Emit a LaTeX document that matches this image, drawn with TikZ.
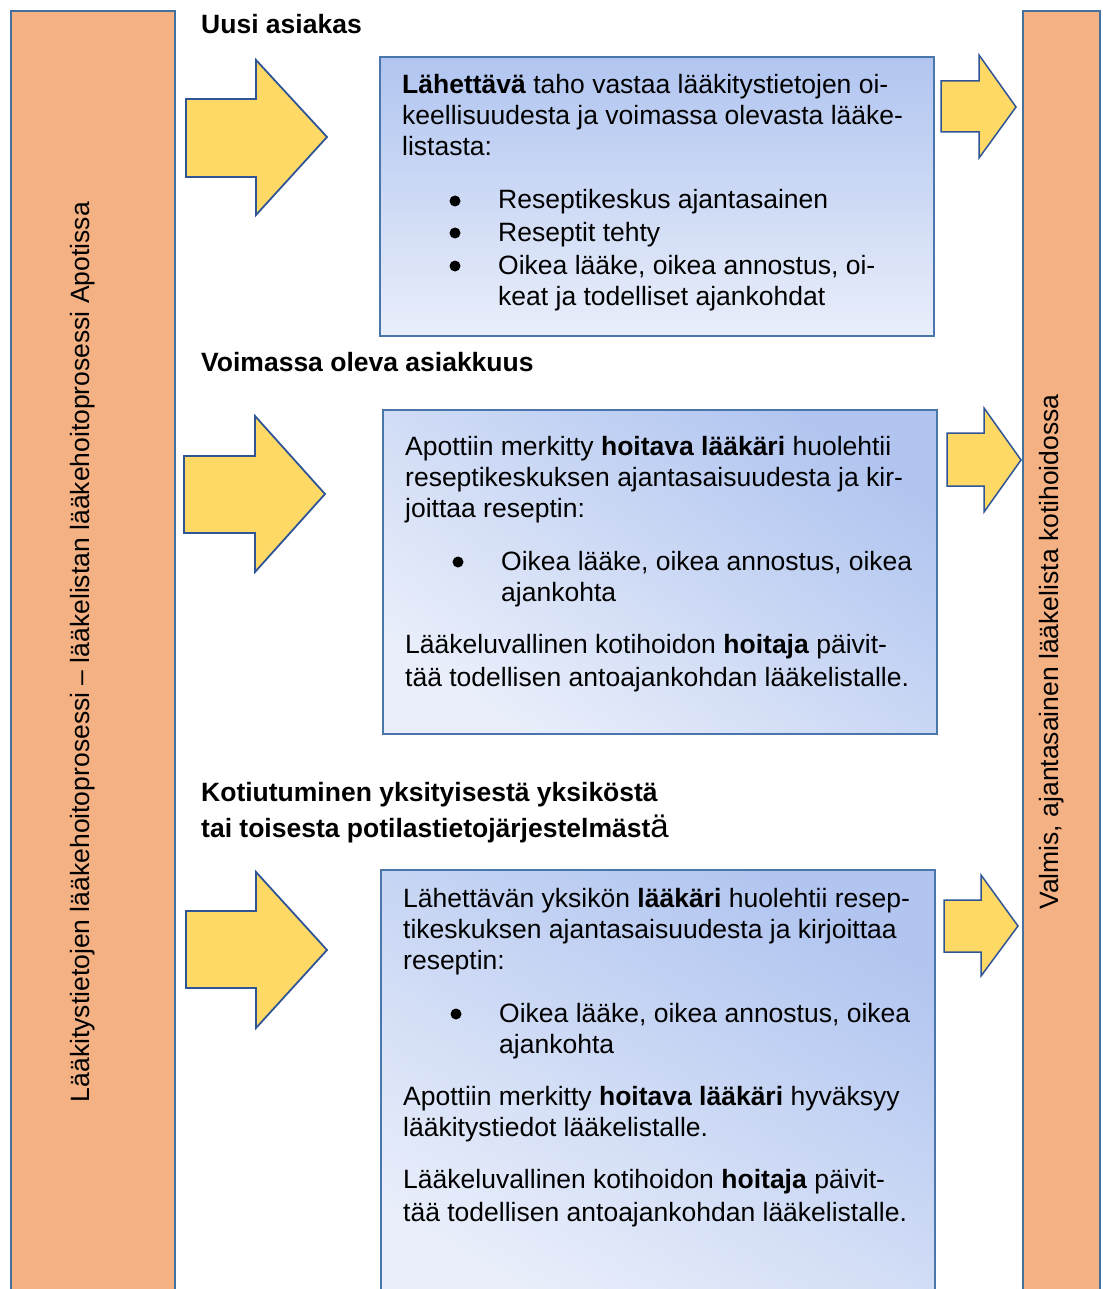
\documentclass[tikz,border=0pt]{standalone}
\usepackage{fontspec}
\setmainfont{Liberation Sans}
\definecolor{barfill}{HTML}{F4B183}
\definecolor{barline}{HTML}{41719C}
\definecolor{arrfill}{HTML}{FFD966}
\definecolor{arrline}{HTML}{2F5597}
\definecolor{boxdark}{HTML}{B1C5F0}
\definecolor{boxlight}{HTML}{E9EEFA}
\definecolor{boxline}{HTML}{4A76AC}
\begin{document}
\begin{tikzpicture}[x=1pt,y=-1pt,
  txt/.style={anchor=base west,inner sep=0pt,font=\fontsize{26.5}{31}\selectfont},
  head/.style={txt,font=\fontsize{26.5}{31}\selectfont\bfseries},
  bar/.style={draw=barline,line width=2.5pt,fill=barfill},
  bigarrow/.style={draw=arrline,line width=1.8pt,fill=arrfill,line join=miter},
  infobox/.style={draw=boxline,line width=2.2pt},
  bul/.style={fill=black,draw=none}
]
\useasboundingbox (0,0) rectangle (1102,1289);
\clip (0,0) rectangle (1102,1289);

% side bars
\draw[bar] (11,11) rectangle (175,1300);
\draw[bar] (1023,11) rectangle (1100,1300);
\node[rotate=90,inner sep=0pt,font=\fontsize{26.5}{31}\selectfont] (lefttxt) at (83,652)
  {Lääkitystietojen lääkehoitoprosessi – lääkelistan lääkehoitoprosessi Apotissa};
\node[rotate=90,inner sep=0pt,font=\fontsize{26.5}{31}\selectfont] (righttxt) at (1052,652)
  {Valmis, ajantasainen lääkelista kotihoidossa};

% big arrows
\draw[bigarrow] (186,99) -- (256,99) -- (256,60) -- (327,137) -- (256,215) -- (256,177) -- (186,177) -- cycle;
\draw[bigarrow] (184,456) -- (255,456) -- (255,416) -- (325,494) -- (255,572) -- (255,533) -- (184,533) -- cycle;
\draw[bigarrow] (186,911) -- (256,911) -- (256,872) -- (327,950) -- (256,1028) -- (256,988) -- (186,988) -- cycle;

% small arrows
\draw[bigarrow,line width=1.5pt] (941,81) -- (979,81) -- (979,55) -- (1016,107) -- (979,158) -- (979,132) -- (941,132) -- cycle;
\draw[bigarrow,line width=1.5pt] (947,433) -- (984,433) -- (984,408) -- (1021,460) -- (984,512) -- (984,486) -- (947,486) -- cycle;
\draw[bigarrow,line width=1.5pt] (944,900) -- (981,900) -- (981,875) -- (1018,926) -- (981,976) -- (981,952) -- (944,952) -- cycle;

% boxes
\draw[infobox,top color=boxdark,bottom color=boxlight] (380,57) rectangle (934,336);
\draw[infobox,top color=boxdark,bottom color=boxlight,shading angle=-35] (383,410) rectangle (937,734);
\draw[infobox,top color=boxdark,bottom color=boxlight,shading angle=-30] (381,870) rectangle (935,1310);

% headings
\node[head] (h1) at (201,34) {Uusi asiakas};
\node[head] (h2) at (201,371) {Voimassa oleva asiakkuus};
\node[head] (h3a) at (201,801) {Kotiutuminen yksityisestä yksiköstä};
\node[head] (h3b) at (201,837) {tai toisesta potilastietojärjestelmäst{\mdseries\fontsize{33}{31}\selectfont ä}};

% box 1 text
\node[txt] (b1l1) at (402,94) {\textbf{Lähettävä} taho vastaa lääkitystietojen oi-};
\node[txt] (b1l2) at (402,125) {keellisuudesta ja voimassa olevasta lääke-};
\node[txt] (b1l3) at (402,156) {listasta:};
\fill[bul] (455,201) circle (5.5);
\node[txt] (b1b1) at (498,209) {Reseptikeskus ajantasainen};
\fill[bul] (455,233) circle (5.5);
\node[txt] (b1b2) at (498,241) {Reseptit tehty};
\fill[bul] (455,266) circle (5.5);
\node[txt] (b1b3) at (498,274) {Oikea lääke, oikea annostus, oi-};
\node[txt] (b1b4) at (498,305) {keat ja todelliset ajankohdat};

% box 2 text
\node[txt] (b2l1) at (405,455) {Apottiin merkitty \textbf{hoitava lääkäri} huolehtii};
\node[txt] (b2l2) at (405,486) {reseptikeskuksen ajantasaisuudesta ja kir-};
\node[txt] (b2l3) at (405,517) {joittaa reseptin:};
\fill[bul] (458,562) circle (5.5);
\node[txt] (b2b1) at (501,570) {Oikea lääke, oikea annostus, oikea};
\node[txt] (b2b2) at (501,601) {ajankohta};
\node[txt] (b2l4) at (405,653) {Lääkeluvallinen kotihoidon \textbf{hoitaja} päivit-};
\node[txt] (b2l5) at (405,686) {tää todellisen antoajankohdan lääkelistalle.};

% box 3 text
\node[txt] (b3l1) at (403,907) {Lähettävän yksikön \textbf{lääkäri} huolehtii resep-};
\node[txt] (b3l2) at (403,938) {tikeskuksen ajantasaisuudesta ja kirjoittaa};
\node[txt] (b3l3) at (403,969) {reseptin:};
\fill[bul] (456,1014) circle (5.5);
\node[txt] (b3b1) at (499,1022) {Oikea lääke, oikea annostus, oikea};
\node[txt] (b3b2) at (499,1053) {ajankohta};
\node[txt] (b3l4) at (403,1105) {Apottiin merkitty \textbf{hoitava lääkäri} hyväksyy};
\node[txt] (b3l5) at (403,1136) {lääkitystiedot lääkelistalle.};
\node[txt] (b3l6) at (403,1188) {Lääkeluvallinen kotihoidon \textbf{hoitaja} päivit-};
\node[txt] (b3l7) at (403,1221) {tää todellisen antoajankohdan lääkelistalle.};
\end{tikzpicture}
\end{document}
